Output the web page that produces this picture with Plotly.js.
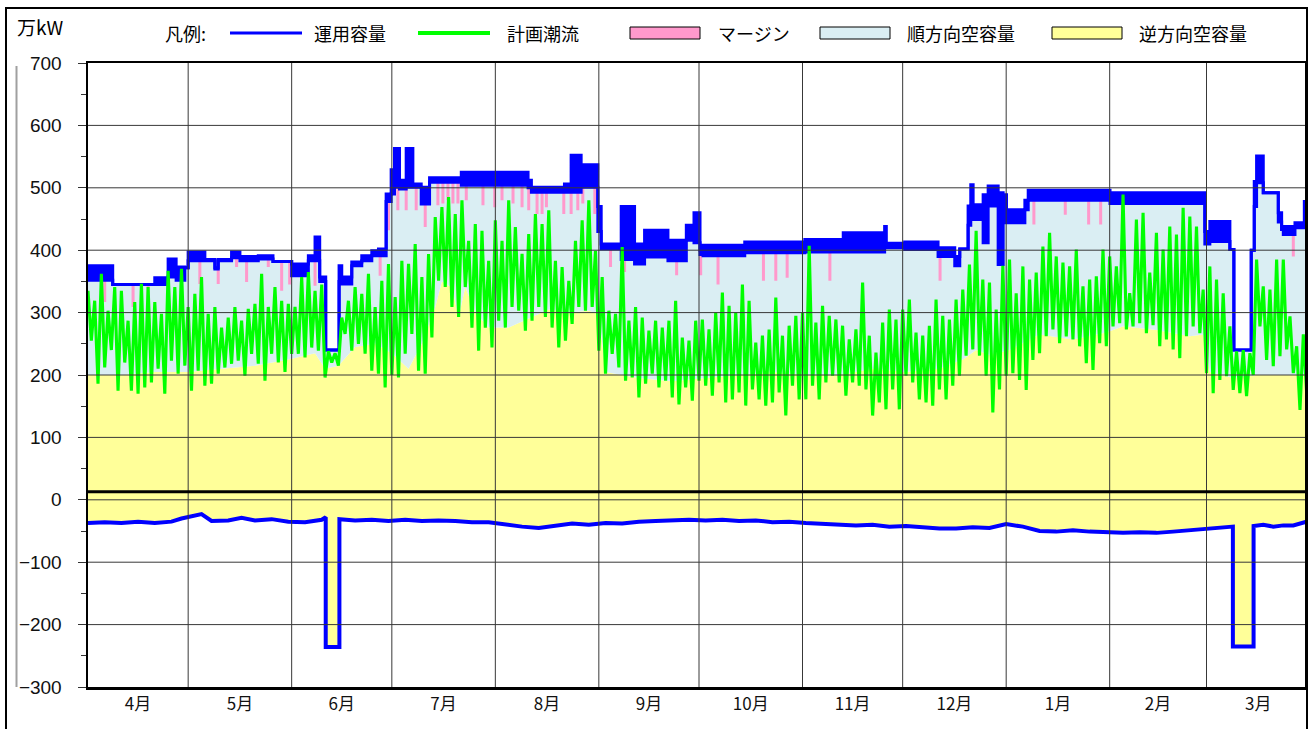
<!DOCTYPE html>
<html>
<head>
<meta charset="utf-8">
<script src="https://cdn.plot.ly/plotly-3.0.1.min.js"></script>
<style>
  html, body { margin: 0; padding: 0; background: #ffffff; }
  #chart { width: 1312px; height: 729px; }
</style>
</head>
<body>
<div id="chart"></div>
<script>
// ---------------- DATA ----------------
const monthLabels = ['4月','5月','6月','7月','8月','9月','10月','11月','12月','1月','2月','3月'];
const monthStarts = [0,30,61,91,122,153,183,214,244,275,306,335,366];
const yTicks = [-300,-200,-100,0,100,200,300,400,500,600,700];
const yMinorTicks = [-250,-150,-50,50,150,250,350,450,550,650];

// 計画潮流: 2-day high / low pairs (high on day 2i, low on day 2i+1)
const flowHi = [
  335,319,362,303,341,335,287,317,346,341,317,298,367,341,370,            // Apr
  309,330,357,298,309,276,292,309,287,306,314,362,309,341,319,314,        // May
  309,357,365,335,345,238,235,292,319,341,330,362,309,351,378,            // Jun
  325,383,378,410,357,394,453,469,485,458,480,415,442,431,383,            // Jul
  448,415,480,437,394,426,458,442,464,383,373,351,415,448,480,399,        // Aug
  357,303,298,405,287,309,292,271,287,276,287,319,260,255,287,            // Sep
  289,273,300,332,311,300,345,319,252,263,273,324,263,279,295,            // Oct
  300,407,284,311,295,289,279,257,273,348,263,236,284,305,289,            // Nov
  305,321,268,263,279,321,295,289,321,337,377,431,353,348,305,375,        // Dec
  385,331,374,353,364,406,428,390,380,374,401,342,353,358,401,            // Jan
  390,374,489,331,449,460,364,428,401,438,425,468,454,438,                // Feb
  337,374,353,331,278,238,240,235,385,342,337,385,385,294,246,265         // Mar
];
const flowLo = [
  255,186,212,240,175,220,175,170,180,188,210,170,223,202,215,
  175,207,183,186,202,212,218,223,199,234,218,191,234,220,205,234,
  234,228,244,239,196,220,215,266,239,250,234,207,202,180,200,
  196,234,266,207,202,260,351,341,309,293,341,276,239,276,244,
  287,276,309,303,271,287,309,293,276,244,255,282,309,303,309,239,
  202,234,212,191,196,164,186,202,180,191,164,153,180,159,191,
  183,167,188,156,161,172,151,177,161,151,156,172,135,183,161,
  161,183,161,188,199,188,167,188,183,177,135,156,145,177,145,
  199,188,161,156,151,177,161,183,199,231,241,231,199,140,177,199,
  203,192,176,224,235,262,273,251,262,257,246,219,208,251,246,
  278,283,273,278,283,267,280,246,257,241,227,262,278,267,
  203,171,192,198,176,171,166,200,278,224,214,230,241,203,144,171
];

// 運用容量 (順方向): step changes, band high / low
const capDays = [0,7.4,20,24,26.4,29,30,35,38,39,43,45.5,51,55.4,61,66,68,69.4,71.2,75.2,76,79,82,85,87,89.3,90.8,91.8,93.3,95.3,97.3,99.8,102.3,111.8,131.8,132.8,142.7,144.7,147.7,152.7,153.7,159.7,163.7,166.7,173.7,179.2,181.5,183.3,184.2,196.7,214.7,226.2,238.6,239.1,244.6,254.6,259.6,261.1,263.6,264.4,265.1,268.1,269.6,272.6,274.1,275.1,280.6,281.6,306.1,334.5,336,342,343.2,348.4,349.3,350,352,356.5,357.5,358,361.5,364.3,365];
const capHi = [375,345,356,386,373,372,397,385,372,385,397,390,391,382,378,391,421,357,240,375,357,381,391,399,402,490,529,563,512,563,506,501,516,525,512,501,506,552,537,470,410,470,410,432,416,440,460,400,408,413,417,428,438,411,413,404,390,402,471,505,473,489,503,492,489,465,480,496,492,430,446,401,240,400,510,551,492,460,433,438,444,478,478];
const capLo = [352,345,345,357,352,372,383,383,370,383,388,383,386,382,359,383,383,350,240,350,346,375,383,391,391,478,490,501,498,501,501,474,509,504,500,493,493,493,501,430,402,385,378,389,383,416,412,393,391,396,397,397,404,404,401,390,375,402,440,471,449,412,471,377,444,444,465,480,475,410,414,401,240,400,470,508,492,445,433,425,436,440,440];

// マージン: days with a margin, its top and bottom
const marginDays = [5,13.5,18,33.5,39,44.5,47.5,54,58,60.4,68,87.5,90,92.8,95.3,98.3,101,104.8,106.3,107.8,109.3,110.8,113.3,118.3,121.8,124,127.3,130,132,134.5,136,137.3,142.5,144.7,146.7,148.2,151.8,156.5,160.7,176.3,183.5,188.7,202.3,206,209.4,222.2,255.2,283.3,292.7,299.7,303.3,309.8,361];
const marginTop = [352,345,345,383,383,388,383,386,382,382,383,391,478,501,501,501,474,509,509,509,509,509,504,504,504,504,504,504,500,493,493,493,493,493,493,501,501,402,385,383,393,391,396,396,396,397,390,480,480,480,480,475,425];
const marginBot = [317,309,306,346,346,373,349,373,335,345,343,359,432,464,464,464,437,472,475,480,475,475,480,472,469,480,475,469,464,458,458,469,458,458,464,475,458,373,365,360,360,345,351,351,356,351,351,441,457,441,441,436,390];

// 運用容量 (逆方向, negative side)
const negDays = [0,5,10,15,20,25,28,31,34,37,42,46,50,55,60,65,70,71.2,71.2,75.3,75.3,80,85,90,95,100,105,110,115,120,125,130,135,140,145,150,155,160,165,170,175,180,185,190,195,200,205,210,215,220,225,230,235,240,245,250,255,260,265,270,275,280,285,290,295,300,305,310,315,320,325,330,335,340,342.9,342.9,349.1,349.1,352,355,358,361,365];
const negVals = [-37,-36,-37,-35,-37,-35,-30,-27,-23,-34,-33,-29,-33,-31,-35,-36,-32,-28,-236,-236,-31,-33,-32,-34,-32,-34,-33,-34,-36,-36,-40,-43,-45,-41,-38,-40,-37,-38,-35,-34,-33,-32,-33,-32,-34,-33,-36,-35,-37,-38,-40,-41,-40,-43,-42,-44,-46,-46,-44,-45,-39,-43,-50,-51,-49,-51,-52,-53,-52,-53,-51,-49,-46,-44,-43,-235,-235,-42,-40,-43,-41,-41,-35];

// 逆方向空容量 upper edge (boundary with 順方向空容量)
const revDays = [0,10,20,30,40,50,60,68,71,75,80,86,91,96,100,104,106,109,111,113,116,120,126,132,138,144,150,153,155,165,175,185,195,205,215,225,235,245,255,262,266,270,276,285,295,305,310,320,330,334,336,343,350,358,365];
const revVals = [200,200,205,205,210,215,225,235,210,215,245,250,235,210,250,309,350,340,293,341,300,276,276,290,305,300,303,298,205,195,190,195,200,205,200,200,210,205,210,225,240,232,240,265,257,268,278,272,262,265,205,195,200,200,200];

// ---------------- BUILD ----------------
const BLUE = '#0000FF', GREEN = '#00FF00', PINK = '#FF99CC', LBLUE = '#DAEEF3', YELLOW = '#FFFF99';

const flowX = [], flowY = [];
for (let i = 0; i < flowHi.length; i++) {
  flowX.push(2 * i, 2 * i + 1);
  flowY.push(flowHi[i], flowLo[i]);
}

const mX = [], mY = [];
const hw = 0.45;
marginDays.forEach((d, i) => {
  mX.push(d - hw, d - hw, d + hw, d + hw, d - hw, null);
  mY.push(marginBot[i], marginTop[i], marginTop[i], marginBot[i], marginBot[i], null);
});

const monthMids = monthLabels.map((_, i) => (monthStarts[i] + monthStarts[i + 1]) / 2);

const traces = [
  { x: negDays, y: negVals, mode: 'lines', line: { width: 0, color: BLUE }, hoverinfo: 'skip' },
  { x: revDays, y: revVals, mode: 'lines', fill: 'tonexty', fillcolor: YELLOW, line: { width: 0, color: YELLOW }, hoverinfo: 'skip' },
  { x: capDays, y: capLo, mode: 'lines', fill: 'tonexty', fillcolor: LBLUE, line: { width: 0, shape: 'hv', color: LBLUE }, hoverinfo: 'skip' },
  { x: mX, y: mY, mode: 'lines', fill: 'toself', fillcolor: PINK, line: { width: 0, color: PINK }, hoverinfo: 'skip' },
  { x: capDays, y: capLo, mode: 'lines', line: { width: 3, shape: 'hv', color: BLUE }, hoverinfo: 'skip' },
  { x: capDays, y: capHi, mode: 'lines', fill: 'tonexty', fillcolor: BLUE, line: { width: 3, shape: 'hv', color: BLUE }, hoverinfo: 'skip' },
  { x: flowX, y: flowY, mode: 'lines', line: { width: 3.1, color: GREEN }, hoverinfo: 'skip' },
  { x: negDays, y: negVals, mode: 'lines', line: { width: 4, color: BLUE }, hoverinfo: 'skip' }
];

// layout helpers (pixel -> paper)
const W = 1312, H = 729, ML = 88, MR = 7, MT = 63, MB = 42;
const PW = W - ML - MR, PH = H - MT - MB;
const px = v => (v - ML) / PW;
const py = v => (H - MB - v) / PH;

const shapes = [];
yTicks.forEach(v => {
  if (v > -300 && v < 700) shapes.push({ type: 'line', xref: 'paper', yref: 'y', x0: 0, x1: 1, y0: v, y1: v, line: { color: '#383838', width: 1 }, layer: 'above' });
});
monthStarts.slice(1, 12).forEach(d => {
  shapes.push({ type: 'line', xref: 'x', yref: 'paper', x0: d, x1: d, y0: 0, y1: 1, line: { color: '#383838', width: 1 }, layer: 'above' });
});
shapes.push({ type: 'line', xref: 'paper', yref: 'y', x0: 0, x1: 1, y0: 13, y1: 13, line: { color: '#000', width: 3 }, layer: 'above' });
// outer frame and side rule
shapes.push({ type: 'rect', xref: 'paper', yref: 'paper', x0: px(6), x1: px(1307), y0: py(760), y1: py(8), line: { color: '#000', width: 2 }, fillcolor: 'rgba(0,0,0,0)', layer: 'above' });
shapes.push({ type: 'line', xref: 'paper', yref: 'paper', x0: px(16.5), x1: px(16.5), y0: py(687), y1: py(66), line: { color: '#a0a0a0', width: 2 }, layer: 'above' });

// legend symbols
const LY = 33;
shapes.push({ type: 'line', xref: 'paper', yref: 'paper', x0: px(230), x1: px(302), y0: py(LY), y1: py(LY), line: { color: BLUE, width: 3 } });
shapes.push({ type: 'line', xref: 'paper', yref: 'paper', x0: px(418), x1: px(490), y0: py(LY), y1: py(LY), line: { color: GREEN, width: 4 } });
const boxes = [[630, 700, PINK], [820, 890, LBLUE], [1052, 1122, YELLOW]];
boxes.forEach(b => shapes.push({ type: 'rect', xref: 'paper', yref: 'paper', x0: px(b[0]), x1: px(b[1]), y0: py(LY + 6), y1: py(LY - 6), fillcolor: b[2], line: { color: '#000', width: 1 } }));

const legFont = { family: 'Noto Sans CJK JP, sans-serif', size: 18, color: '#000' };
const legTexts = [[163, '凡例:'], [312, '運用容量'], [505, '計画潮流'], [716, 'マージン'], [905, '順方向空容量'], [1137, '逆方向空容量']];
const annotations = legTexts.map(t => ({ xref: 'paper', yref: 'paper', x: px(t[0]), y: py(LY), xanchor: 'left', yanchor: 'middle', text: t[1], showarrow: false, font: legFont }));
annotations.push({ xref: 'paper', yref: 'paper', x: px(15), y: py(27), xanchor: 'left', yanchor: 'middle', text: '万kW', showarrow: false, font: { family: 'Noto Sans CJK JP, sans-serif', size: 19, color: '#000' } });

const layout = {
  width: W, height: H,
  margin: { l: ML, r: MR, t: MT, b: MB, pad: 0 },
  paper_bgcolor: '#ffffff', plot_bgcolor: '#ffffff',
  showlegend: false,
  xaxis: {
    range: [0, 364.5], tickmode: 'array', tickvals: monthMids, ticktext: monthLabels,
    ticks: '', showgrid: false, zeroline: false,
    showline: true, linecolor: '#000', linewidth: 2.5, mirror: true,
    tickfont: { family: 'Noto Sans CJK JP, sans-serif', size: 17, color: '#111' },
    ticklabelstandoff: 0, fixedrange: true
  },
  yaxis: {
    range: [-300, 700], tickmode: 'array', tickvals: yTicks,
    ticks: 'outside', ticklen: 8, tickcolor: '#333', tickwidth: 1,
    showgrid: false, zeroline: false,
    showline: true, linecolor: '#000', linewidth: 2.5, mirror: true,
    tickfont: { family: 'Liberation Sans, Arial, sans-serif', size: 19, color: '#111' },
    ticklabelstandoff: 12,
    minor: { tickmode: 'array', tickvals: yMinorTicks, ticks: 'outside', ticklen: 5, tickcolor: '#333', showgrid: false },
    fixedrange: true
  },
  shapes: shapes,
  annotations: annotations
};

Plotly.newPlot('chart', traces, layout, { staticPlot: true, displayModeBar: false });
</script>
</body>
</html>
